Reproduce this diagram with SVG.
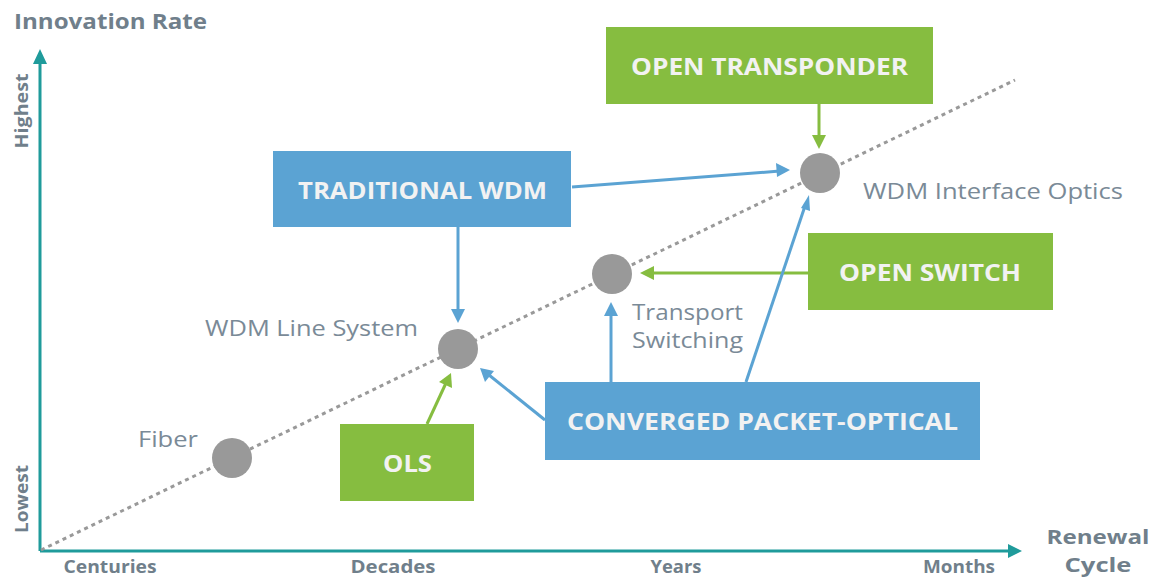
<svg xmlns="http://www.w3.org/2000/svg" width="1157" height="578" viewBox="0 0 1157 578">
  <defs>
    <style>
      .axis { stroke: #1f9b9b; stroke-width: 3; fill: none; }
      .trend { stroke: #999; stroke-width: 3; stroke-dasharray: 4 4; fill: none; }
      .dot { fill: #999; }
      .green { fill: #86bd40; }
      .blue { fill: #5ba3d3; }
      .boxtxt { font-family: "Open Sans", "Liberation Sans", sans-serif; font-weight: 700; font-size: 24px; fill: #f2f2f2; text-anchor: middle; }
      .lbl { font-family: "Open Sans", "Liberation Sans", sans-serif; font-size: 22px; fill: #7a8a97; }
      .ax { font-family: "Open Sans", "Liberation Sans", sans-serif; font-weight: 700; fill: #707f8b; }
      .tick { font-family: "Open Sans", "Liberation Sans", sans-serif; font-weight: 700; font-size: 17px; fill: #707f8b; text-anchor: middle; }
      .cb { stroke: #5ba3d3; stroke-width: 3; fill: none; }
      .cg { stroke: #86bd40; stroke-width: 3; fill: none; }
    </style>
  </defs>

  <!-- axes -->
  <g id="axes">
    <line class="axis" x1="40" y1="551" x2="40" y2="60"/>
    <path d="M33,64 L40,49 L47,64 Z" fill="#1f9b9b"/>
    <line class="axis" x1="40" y1="551" x2="1010" y2="551"/>
    <path d="M1008,544 L1022,551 L1008,558 Z" fill="#1f9b9b"/>
    <text class="ax" x="14" y="29" font-size="22" textLength="193" lengthAdjust="spacingAndGlyphs">Innovation Rate</text>
    <text class="ax" font-size="18" transform="translate(28,111) rotate(-90)" text-anchor="middle" font-weight="600" textLength="75" lengthAdjust="spacingAndGlyphs">Highest</text>
    <text class="ax" font-size="18" transform="translate(28,499) rotate(-90)" text-anchor="middle" font-weight="600" textLength="68" lengthAdjust="spacingAndGlyphs">Lowest</text>
    <text class="ax" x="1098" y="544" font-size="20" text-anchor="middle" textLength="103" lengthAdjust="spacingAndGlyphs">Renewal</text>
    <text class="ax" x="1098" y="572" font-size="20" text-anchor="middle" textLength="67" lengthAdjust="spacingAndGlyphs">Cycle</text>
    <text class="tick" x="110" y="573" textLength="93" lengthAdjust="spacingAndGlyphs">Centuries</text>
    <text class="tick" x="393" y="573" textLength="85" lengthAdjust="spacingAndGlyphs">Decades</text>
    <text class="tick" x="676" y="573" textLength="51" lengthAdjust="spacingAndGlyphs">Years</text>
    <text class="tick" x="959" y="573" textLength="72" lengthAdjust="spacingAndGlyphs">Months</text>
  </g>

  <!-- trend line -->
  <line class="trend" x1="41" y1="550" x2="1015" y2="80"/>

  <!-- connectors -->
  <g id="connectors">
    <line class="cg" x1="819" y1="104" x2="819" y2="140"/>
    <path d="M812,135 L819,149 L826,135 Z" fill="#86bd40"/>
    <line class="cb" x1="572" y1="187" x2="780" y2="171"/>
    <path d="M776,163 L790,170 L777,177 Z" fill="#5ba3d3"/>
    <line class="cb" x1="458" y1="227" x2="458" y2="312"/>
    <path d="M451,309 L458,323 L465,309 Z" fill="#5ba3d3"/>
    <line class="cg" x1="808" y1="273" x2="650" y2="273"/>
    <path d="M654,266 L640,273 L654,280 Z" fill="#86bd40"/>
    <line class="cb" x1="611" y1="382" x2="611" y2="312"/>
    <path d="M604,316 L611,302 L618,316 Z" fill="#5ba3d3"/>
    <line class="cb" x1="746" y1="382" x2="805" y2="206"/>
    <path d="M801,208 L809,195 L810,211 Z" fill="#5ba3d3"/>
    <line class="cb" x1="545" y1="420" x2="489" y2="375"/>
    <path d="M485,382 L480,368 L494,371 Z" fill="#5ba3d3"/>
    <line class="cg" x1="427" y1="424" x2="446" y2="383"/>
    <path d="M439,382 L451,373 L452,388 Z" fill="#86bd40"/>
  </g>

  <!-- nodes on the trend -->
  <g id="fiber">
    <circle class="dot" cx="232" cy="458" r="20"/>
    <text class="lbl" x="198" y="447" text-anchor="end" textLength="60" lengthAdjust="spacingAndGlyphs">Fiber</text>
  </g>
  <g id="wdm-line-system">
    <circle class="dot" cx="458" cy="349" r="20"/>
    <text class="lbl" x="418" y="336" text-anchor="end" textLength="213" lengthAdjust="spacingAndGlyphs">WDM Line System</text>
  </g>
  <g id="transport-switching">
    <circle class="dot" cx="612" cy="274" r="20"/>
    <text class="lbl" x="632" y="320" textLength="111" lengthAdjust="spacingAndGlyphs">Transport</text>
    <text class="lbl" x="632" y="348" textLength="111" lengthAdjust="spacingAndGlyphs">Switching</text>
  </g>
  <g id="wdm-interface-optics">
    <circle class="dot" cx="820" cy="173" r="20"/>
    <text class="lbl" x="863" y="199" textLength="260" lengthAdjust="spacingAndGlyphs">WDM Interface Optics</text>
  </g>

  <!-- boxes -->
  <g id="open-transponder">
    <rect class="green" x="606" y="27" width="327" height="77"/>
    <text class="boxtxt" x="769.5" y="75" textLength="277" lengthAdjust="spacingAndGlyphs">OPEN TRANSPONDER</text>
  </g>
  <g id="traditional-wdm">
    <rect class="blue" x="273" y="151" width="298" height="76"/>
    <text class="boxtxt" x="422.5" y="199" textLength="249" lengthAdjust="spacingAndGlyphs">TRADITIONAL WDM</text>
  </g>
  <g id="open-switch">
    <rect class="green" x="808" y="233" width="245" height="77"/>
    <text class="boxtxt" x="930" y="281" textLength="182" lengthAdjust="spacingAndGlyphs">OPEN SWITCH</text>
  </g>
  <g id="converged-packet-optical">
    <rect class="blue" x="545" y="382" width="435" height="78"/>
    <text class="boxtxt" x="762.5" y="430" textLength="391" lengthAdjust="spacingAndGlyphs">CONVERGED PACKET-OPTICAL</text>
  </g>
  <g id="ols">
    <rect class="green" x="340" y="424" width="134" height="77"/>
    <text class="boxtxt" x="407.5" y="472" textLength="49" lengthAdjust="spacingAndGlyphs">OLS</text>
  </g>
</svg>
